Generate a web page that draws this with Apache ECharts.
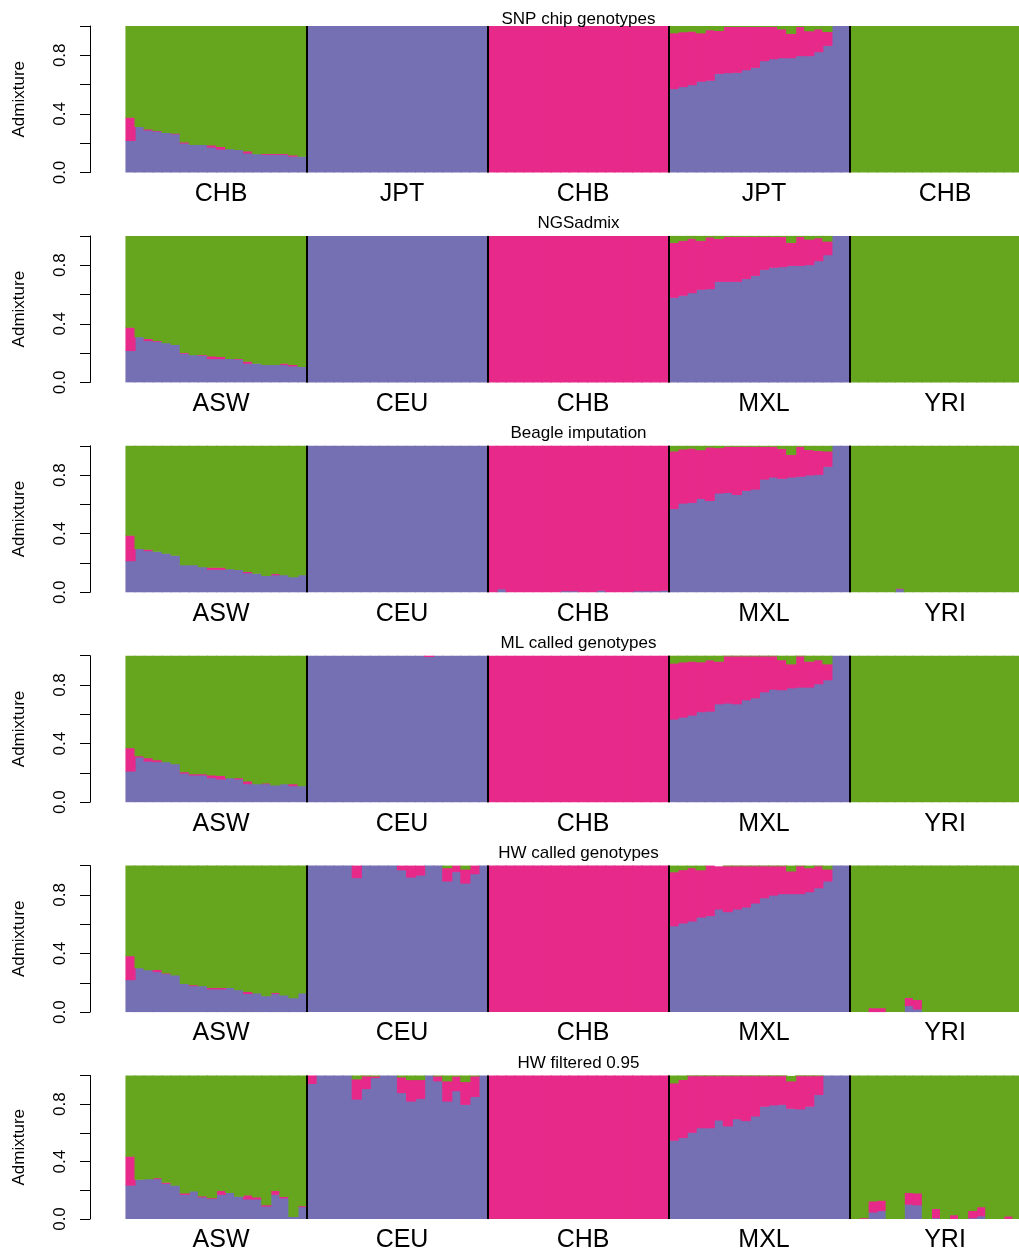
<!DOCTYPE html>
<html>
<head>
<meta charset="utf-8">
<script src="https://cdn.jsdelivr.net/npm/echarts@6/dist/echarts.min.js"></script>
<style>
html, body { margin: 0; padding: 0; overflow: hidden; background: #fff; }
#graph { width: 1040px; height: 1253px; }
</style>
</head>
<body>
<div id="graph"></div>
<script>
// ancestry colours (CEU-like, CHB-like, YRI-like components)
const colPurple = '#7570B3';
const colPink = '#E7298A';
const colGreen = '#66A61E';
const fontFam = 'Liberation Sans, Arial, sans-serif';

const titles = ['SNP chip genotypes', 'NGSadmix', 'Beagle imputation', 'ML called genotypes', 'HW called genotypes', 'HW filtered 0.95'];
const snpPops = ['CHB', 'JPT', 'CHB', 'JPT', 'CHB'];
const popNames = ['ASW', 'CEU', 'CHB', 'MXL', 'YRI'];
const popSize = 20;
const yTicks = [0, 0.4, 0.8];

// --- SNP chip genotypes
const snpPurple = [
  0.215,0.31,0.286,0.279,0.27,0.26,0.197,0.188,0.188,0.17,0.156,0.159,0.154,0.129,0.125,0.12,0.12,0.12,0.107,0.107,
  1,1,1,1,1,1,1,1,1,1,1,1,1,1,1,1,1,1,1,1,
  0,0,0,0,0,0,0,0,0,0,0,0,0,0,0,0,0,0,0,0,
  0.569,0.583,0.596,0.619,0.626,0.673,0.678,0.68,0.698,0.714,0.76,0.773,0.78,0.78,0.794,0.794,0.821,0.864,1,1,
  0,0,0,0,0,0,0,0,0,0,0,0,0,0,0,0,0,0,0,0
];
const snpPink = [
  0.159,0,0.007,0.005,0,0.005,0.007,0,0,0.014,0.018,0,0,0.014,0,0.007,0.007,0.007,0.009,0,
  0,0,0,0,0,0,0,0,0,0,0,0,0,0,0,0,0,0,0,0,
  1,1,1,1,1,1,1,1,1,1,1,1,1,1,1,1,1,1,1,1,
  0.381,0.374,0.365,0.331,0.345,0.293,0.315,0.313,0.295,0.279,0.233,0.22,0.197,0.166,0.199,0.17,0.156,0.095,0,0,
  0,0,0,0,0,0,0,0,0,0,0,0,0,0,0,0,0,0,0,0
];
const snpGreen = [
  0.626,0.69,0.707,0.716,0.73,0.735,0.796,0.812,0.812,0.816,0.826,0.841,0.846,0.857,0.875,0.873,0.873,0.873,0.884,0.893,
  0,0,0,0,0,0,0,0,0,0,0,0,0,0,0,0,0,0,0,0,
  0,0,0,0,0,0,0,0,0,0,0,0,0,0,0,0,0,0,0,0,
  0.05,0.043,0.039,0.05,0.029,0.034,0.007,0.007,0.007,0.007,0.007,0.007,0.023,0.054,0.007,0.036,0.023,0.041,0,0,
  1,1,1,1,1,1,1,1,1,1,1,1,1,1,1,1,1,1,1,1
];

// --- NGSadmix
const ngsPurple = [
  0.214,0.309,0.282,0.277,0.268,0.255,0.195,0.186,0.182,0.159,0.159,0.159,0.155,0.127,0.127,0.118,0.118,0.118,0.109,0.105,
  1,1,1,1,1,1,1,1,1,1,1,1,1,1,1,1,1,1,1,1,
  0,0,0,0,0,0,0,0,0,0,0,0,0,0,0,0,0,0,0,0,
  0.577,0.591,0.609,0.632,0.636,0.686,0.686,0.686,0.705,0.727,0.768,0.782,0.786,0.795,0.795,0.8,0.827,0.868,1,1,
  0,0,0,0,0,0,0,0,0,0,0,0,0,0,0,0,0,0,0,0
];
const ngsPink = [
  0.159,0,0.014,0.005,0,0,0.005,0,0.005,0.018,0.014,0,0.005,0.014,0,0,0,0.009,0.009,0,
  0,0,0,0,0,0,0,0,0,0,0,0,0,0,0,0,0,0,0,0,
  1,1,1,1,1,1,1,1,1,1,1,1,1,1,1,1,1,1,1,1,
  0.375,0.375,0.371,0.334,0.353,0.294,0.307,0.307,0.288,0.266,0.225,0.211,0.207,0.157,0.198,0.175,0.157,0.093,0,0,
  0,0,0,0,0,0,0,0,0,0,0,0,0,0,0,0,0,0,0,0
];
const ngsGreen = [
  0.627,0.691,0.704,0.718,0.732,0.745,0.8,0.814,0.813,0.823,0.827,0.841,0.84,0.859,0.873,0.882,0.882,0.873,0.882,0.895,
  0,0,0,0,0,0,0,0,0,0,0,0,0,0,0,0,0,0,0,0,
  0,0,0,0,0,0,0,0,0,0,0,0,0,0,0,0,0,0,0,0,
  0.048,0.034,0.02,0.034,0.011,0.02,0.007,0.007,0.007,0.007,0.007,0.007,0.007,0.048,0.007,0.025,0.016,0.039,0,0,
  1,1,1,1,1,1,1,1,1,1,1,1,1,1,1,1,1,1,1,1
];

// --- Beagle imputation
const bglPurple = [
  0.212,0.295,0.281,0.276,0.263,0.249,0.185,0.185,0.171,0.153,0.153,0.158,0.153,0.13,0.126,0.112,0.116,0.116,0.103,0.116,
  1,1,1,1,1,1,1,1,1,1,1,1,1,1,1,1,1,1,1,1,
  0,0.02,0,0,0,0,0,0,0.007,0.007,0,0,0.01,0,0,0,0.007,0.007,0.007,0.01,
  0.568,0.605,0.61,0.637,0.623,0.674,0.678,0.664,0.692,0.701,0.769,0.783,0.774,0.783,0.788,0.797,0.801,0.856,1,1,
  0,0,0,0,0,0.02,0,0,0,0,0,0,0,0,0,0,0,0,0,0
];
const bglPink = [
  0.174,0,0.009,0,0,0,0,0,0,0.014,0.014,0,0,0.009,0,0,0.009,0,0,0,
  0,0,0,0,0,0,0,0,0,0,0,0,0,0,0,0,0,0,0,0,
  1,0.98,1,1,1,1,1,1,0.993,0.993,1,1,0.99,1,1,1,0.993,0.993,0.993,0.99,
  0.393,0.37,0.37,0.333,0.365,0.31,0.315,0.329,0.301,0.292,0.224,0.21,0.205,0.155,0.205,0.174,0.164,0.105,0,0,
  0,0,0,0,0,0.005,0,0,0,0,0,0,0,0,0,0,0,0,0,0
];
const bglGreen = [
  0.614,0.705,0.71,0.724,0.737,0.751,0.815,0.815,0.829,0.833,0.833,0.842,0.847,0.861,0.874,0.888,0.875,0.884,0.897,0.884,
  0,0,0,0,0,0,0,0,0,0,0,0,0,0,0,0,0,0,0,0,
  0,0,0,0,0,0,0,0,0,0,0,0,0,0,0,0,0,0,0,0,
  0.039,0.025,0.02,0.03,0.012,0.016,0.007,0.007,0.007,0.007,0.007,0.007,0.021,0.062,0.007,0.029,0.035,0.039,0,0,
  1,1,1,1,1,0.975,1,1,1,1,1,1,1,1,1,1,1,1,1,1
];

// --- ML called genotypes
const mlPurple = [
  0.209,0.305,0.277,0.273,0.273,0.259,0.195,0.182,0.182,0.164,0.155,0.164,0.155,0.123,0.123,0.123,0.114,0.123,0.109,0.109,
  1,1,1,1,1,1,1,1,1,1,1,1,1,0.991,1,1,1,1,1,1,
  0,0,0,0,0,0,0,0,0,0,0,0,0,0,0,0,0,0,0,0,
  0.564,0.577,0.591,0.614,0.618,0.668,0.673,0.668,0.695,0.709,0.75,0.768,0.764,0.777,0.782,0.782,0.805,0.832,1,1,
  0,0,0,0,0,0,0,0,0,0,0,0,0,0,0,0,0,0,0,0
];
const mlPink = [
  0.159,0.009,0.023,0.014,0,0,0.009,0.009,0.009,0.018,0.023,0,0.009,0.018,0,0.005,0,0,0.014,0,
  0,0,0,0,0,0,0,0,0,0,0,0,0,0.009,0,0,0,0,0,0,
  1,1,1,1,1,1,1,1,1,1,1,1,1,1,1,1,1,1,1,1,
  0.382,0.377,0.368,0.341,0.35,0.291,0.322,0.327,0.3,0.286,0.245,0.227,0.205,0.164,0.213,0.177,0.164,0.109,0,0,
  0,0,0,0,0,0,0,0,0,0,0,0,0,0,0,0,0,0,0,0
];
const mlGreen = [
  0.632,0.686,0.7,0.713,0.727,0.741,0.796,0.809,0.809,0.818,0.822,0.836,0.836,0.859,0.877,0.872,0.886,0.877,0.877,0.891,
  0,0,0,0,0,0,0,0,0,0,0,0,0,0,0,0,0,0,0,0,
  0,0,0,0,0,0,0,0,0,0,0,0,0,0,0,0,0,0,0,0,
  0.054,0.046,0.041,0.045,0.032,0.041,0.005,0.005,0.005,0.005,0.005,0.005,0.031,0.059,0.005,0.041,0.031,0.059,0,0,
  1,1,1,1,1,1,1,1,1,1,1,1,1,1,1,1,1,1,1,1
];

// --- HW called genotypes
const hwPurple = [
  0.218,0.3,0.286,0.273,0.259,0.25,0.191,0.177,0.177,0.155,0.155,0.164,0.15,0.123,0.127,0.109,0.123,0.114,0.095,0.127,
  1,1,1,1,1,0.914,1,1,1,1,0.968,0.918,0.932,1,1,0.891,0.955,0.877,0.941,1,
  0,0,0,0,0,0,0,0,0,0,0,0,0,0,0,0,0,0,0,0,
  0.586,0.605,0.618,0.645,0.655,0.7,0.682,0.7,0.714,0.741,0.777,0.795,0.805,0.805,0.805,0.818,0.845,0.891,1,1,
  0,0,0,0,0,0,0.041,0.018,0,0,0,0,0,0,0,0,0,0,0,0
];
const hwPink = [
  0.164,0,0,0.014,0.005,0,0,0.007,0,0.009,0.009,0,0,0.014,0,0,0.007,0,0,0,
  0,0,0,0,0,0.086,0,0,0,0,0.032,0.082,0.068,0,0,0.091,0.045,0.096,0.059,0,
  1,1,1,1,1,1,1,1,1,1,1,1,1,1,1,1,1,1,1,1,
  0.368,0.364,0.364,0.323,0.345,0.291,0.313,0.295,0.281,0.254,0.218,0.2,0.19,0.155,0.19,0.164,0.15,0.082,0,0,
  0,0,0.027,0.027,0,0,0.055,0.064,0,0,0,0,0,0,0,0,0,0,0,0
];
const hwGreen = [
  0.618,0.7,0.714,0.713,0.736,0.75,0.809,0.816,0.823,0.836,0.836,0.836,0.85,0.863,0.873,0.891,0.87,0.886,0.905,0.873,
  0,0,0,0,0,0,0,0,0,0,0,0,0,0,0,0.018,0,0.027,0,0,
  0,0,0,0,0,0,0,0,0,0,0,0,0,0,0,0,0,0,0,0,
  0.046,0.031,0.018,0.032,0,0,0.005,0.005,0.005,0.005,0.005,0.005,0.005,0.04,0.005,0.018,0.005,0.027,0,0,
  1,1,0.973,0.973,1,1,0.904,0.918,1,1,1,1,1,1,1,1,1,1,1,1
];

// --- HW filtered 0.95
const hwfPurple = [
  0.232,0.273,0.277,0.277,0.245,0.232,0.168,0.191,0.15,0.139,0.168,0.182,0.155,0.136,0.136,0.086,0.168,0.143,0.014,0.082,
  0.941,1,1,1,1,0.832,0.905,0.982,1,1,0.877,0.818,0.836,1,0.959,0.818,0.89,0.795,0.85,1,
  0,0,0,0,0,0,0,0,0,0,0,0,0,0,0,0,0,0,0,0,
  0.545,0.564,0.6,0.632,0.632,0.686,0.645,0.695,0.682,0.714,0.782,0.791,0.795,0.768,0.764,0.782,0.864,1,1,1,
  0,0,0.045,0.055,0,0,0.1,0.095,0,0.005,0,0,0,0.005,0.018,0,0,0,0,0
];
const hwfPink = [
  0.202,0,0,0.007,0.007,0,0.009,0,0.007,0.005,0.027,0,0,0.027,0.014,0.009,0.027,0.011,0,0.007,
  0.059,0,0,0,0,0.141,0.089,0.011,0,0,0.109,0.15,0.132,0,0.034,0.141,0.102,0.159,0.143,0,
  1,1,1,1,1,1,1,1,1,1,1,1,1,1,1,1,1,1,1,1,
  0.4,0.405,0.395,0.363,0.363,0.309,0.35,0.3,0.313,0.281,0.213,0.204,0.2,0.191,0.231,0.213,0.131,0,0,0,
  0,0.005,0.077,0.073,0,0,0.082,0.082,0,0.064,0,0.027,0,0.05,0.064,0,0,0.018,0,0
];
const hwfGreen = [
  0.566,0.727,0.723,0.716,0.748,0.768,0.823,0.809,0.843,0.856,0.805,0.818,0.845,0.837,0.85,0.905,0.805,0.846,0.986,0.911,
  0,0,0,0,0,0.027,0.006,0.007,0,0,0.014,0.032,0.032,0,0.007,0.041,0.008,0.046,0.007,0,
  0,0,0,0,0,0,0,0,0,0,0,0,0,0,0,0,0,0,0,0,
  0.055,0.031,0.005,0.005,0.005,0.005,0.005,0.005,0.005,0.005,0.005,0.005,0.005,0.034,0.005,0.005,0.005,0,0,0,
  1,0.995,0.878,0.872,1,1,0.818,0.823,1,0.931,1,0.973,1,0.945,0.918,1,1,0.982,1,1
];

const panels = [
  {title: titles[0], pops: snpPops, q: [snpPurple, snpPink, snpGreen]},
  {title: titles[1], pops: popNames, q: [ngsPurple, ngsPink, ngsGreen]},
  {title: titles[2], pops: popNames, q: [bglPurple, bglPink, bglGreen]},
  {title: titles[3], pops: popNames, q: [mlPurple, mlPink, mlGreen]},
  {title: titles[4], pops: popNames, q: [hwPurple, hwPink, hwGreen]},
  {title: titles[5], pops: popNames, q: [hwfPurple, hwfPink, hwfGreen]}
];
const colours = [colPurple, colPink, colGreen];
const individuals = snpPurple.map((v, i) => 'ind' + (i + 1));

const panelTop = 26;
const panelStep = 209.9;
const panelHeight = 146.5;

// stacked bar segment; widened a touch so neighbouring bars leave no hairline seams
function renderSeg(params, api) {
	let lo = api.value(1), hi = api.value(2);
	if (!(hi > lo)) return null;
	let p0 = api.coord([api.value(0), lo]);
	let p1 = api.coord([api.value(0), hi]);
	let w = api.size([1, 0])[0];
	let extra = hi < 0.999 ? 0.6 : 0;
	return {
		type: 'rect',
		shape: {x: p0[0] - w / 2 - 0.55, y: p1[1] - extra, width: w + 1.1, height: p0[1] - p1[1] + extra},
		style: {fill: api.visual('color')}
	};
}

var myChart = echarts.init(document.getElementById('graph'), null, {renderer: 'canvas'});

let grids = [], xAxes = [], yAxes = [], series = [], titleList = [];

panels.forEach(function (p, i) {
	let top = panelTop + panelStep * i;
	grids.push({left: 126, width: 905, top: top, height: panelHeight});
	titleList.push({
		text: p.title, left: 578.5, textAlign: 'center', padding: 0,
		top: i === 0 ? top - 15 : top - 21,
		textStyle: {fontSize: 17, fontWeight: 'normal', color: '#000', fontFamily: fontFam}
	});
	xAxes.push({
		type: 'category', gridIndex: i, data: individuals, z: 10,
		axisLine: {show: false}, axisTick: {show: false},
		axisLabel: {
			interval: function (idx) { return idx % popSize === popSize / 2; },
			formatter: function (val, idx) { return p.pops[Math.floor(idx / popSize)]; },
			fontSize: 25, color: '#000', margin: 9, fontFamily: fontFam
		},
		splitLine: {
			show: true,
			interval: function (idx) { return idx > 0 && idx % popSize === 0; },
			lineStyle: {color: '#000', width: 2}
		}
	});
	yAxes.push({
		type: 'value', gridIndex: i, min: 0, max: 1, interval: 0.2, offset: 36,
		name: 'Admixture', nameLocation: 'middle', nameRotate: 90, nameGap: 62,
		nameTextStyle: {fontSize: 17, color: '#000', fontFamily: fontFam},
		axisLine: {show: true, lineStyle: {color: '#000', width: 1}},
		axisTick: {show: true, length: 10, lineStyle: {color: '#000'}},
		splitLine: {show: false},
		axisLabel: {
			rotate: 90, margin: 21, fontSize: 17, color: '#000', fontFamily: fontFam,
			formatter: function (v) {
				return yTicks.some(t => Math.abs(t - v) < 1e-6) ? v.toFixed(1) : '';
			}
		}
	});
	// stack the three ancestry components: purple at the bottom, then pink, then green
	let base = p.q[0].map(() => 0);
	p.q.forEach(function (arr, k) {
		let segs = arr.map(function (v, j) {
			let seg = [j, base[j], base[j] + v];
			base[j] += v;
			return seg;
		});
		series.push({
			type: 'custom', xAxisIndex: i, yAxisIndex: i,
			renderItem: renderSeg,
			encode: {x: 0, y: [1, 2]},
			data: segs,
			itemStyle: {color: colours[k]},
			silent: true,
			z: 2
		});
	});
});

myChart.setOption({
	animation: false,
	backgroundColor: '#fff',
	title: titleList,
	grid: grids,
	xAxis: xAxes,
	yAxis: yAxes,
	series: series
});
</script>
</body>
</html>
